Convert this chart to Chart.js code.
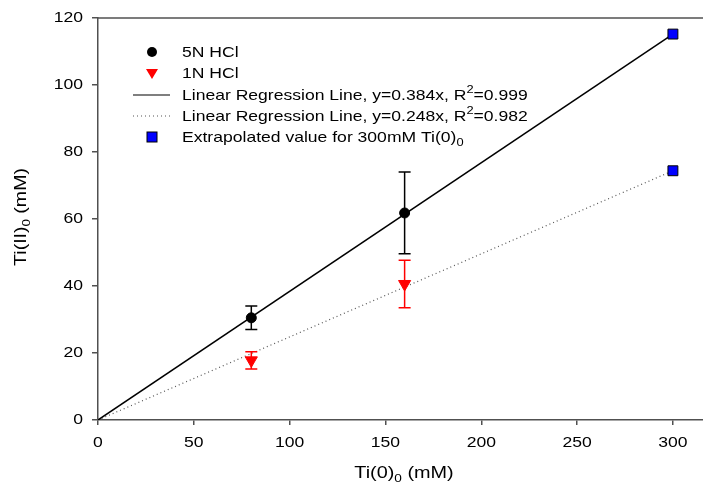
<!DOCTYPE html>
<html>
<head>
<meta charset="utf-8">
<script src="https://cdn.jsdelivr.net/npm/chart.js@4/dist/chart.umd.min.js"></script>
<style>
  html, body { margin: 0; padding: 0; background: #fff; overflow: hidden; }
  #wrap { width: 703px; height: 489px; position: relative; }
  canvas { display: block; }
</style>
</head>
<body>
<div id="wrap"><canvas id="myChart"></canvas></div>
<script>
// concentraciones Ti(0) (mM)
const xConc = [80, 160];
// Ti(II) medido con 5N HCl y su error
const y5N = [30.5, 61.8];
const err5N = [3.5, 12.2];
// Ti(II) medido con 1N HCl y su error
const y1N = [17.8, 40.6];
const err1N = [2.6, 7.1];
// rectas de regresion (pendientes) y valor extrapolado a 300 mM
const slope5N = 0.384;
const slope1N = 0.248;
const xLinea = [0, 300];
const xExtra = 300;
const yExtra = [115.2, 74.4];
// ticks
const xTicks = [0, 50, 100, 150, 200, 250, 300];
const yTicks = [0, 20, 40, 60, 80, 100, 120];

const fuente = "'Liberation Sans', Arial, sans-serif";
const ejeColor = '#505050';
const estirar = 1.17; // el original esta algo ensanchado

function pts(xs, ys) {
    return xs.map((x, i) => ({ x: x, y: ys[i] }));
}

// barras de error
const errorBars = {
    id: 'errorBars',
    afterDatasetsDraw(chart) {
        const ctx = chart.ctx;
        const xs = chart.scales.x, ys = chart.scales.y;
        const series = [[y5N, err5N, '#000'], [y1N, err1N, '#ff0000']];
        ctx.save();
        ctx.lineWidth = 1.5;
        series.forEach(s => {
            ctx.strokeStyle = s[2];
            xConc.forEach((xv, i) => {
                const px = xs.getPixelForValue(xv);
                const top = ys.getPixelForValue(s[0][i] + s[1][i]);
                const bot = ys.getPixelForValue(s[0][i] - s[1][i]);
                ctx.beginPath();
                ctx.moveTo(px, top); ctx.lineTo(px, bot);
                ctx.moveTo(px - 6, top); ctx.lineTo(px + 6, top);
                ctx.moveTo(px - 6, bot); ctx.lineTo(px + 6, bot);
                ctx.stroke();
            });
        });
        ctx.restore();
    }
};

// texto con sub/superindice: partes [texto, modo]
function partsWidth(ctx, parts, size) {
    let w = 0;
    parts.forEach(p => {
        ctx.font = (p[1] !== 'n' ? Math.round(size * 0.7) : size) + 'px ' + fuente;
        w += ctx.measureText(p[0]).width;
    });
    return w;
}
function drawParts(ctx, parts, x, y, size, sx) {
    ctx.save();
    ctx.translate(x, y);
    ctx.scale(sx, 1);
    let cx = 0;
    parts.forEach(p => {
        const small = p[1] !== 'n';
        ctx.font = (small ? Math.round(size * 0.7) : size) + 'px ' + fuente;
        let dy = 0;
        if (p[1] === 'sub') dy = size * 0.32;
        if (p[1] === 'sup') dy = -size * 0.4;
        ctx.fillText(p[0], cx, dy);
        cx += ctx.measureText(p[0]).width;
    });
    ctx.restore();
}

const extras = {
    id: 'extras',
    afterDraw(chart) {
        const ctx = chart.ctx;
        const a = chart.chartArea;
        const xs = chart.scales.x, ys = chart.scales.y;
        ctx.save();
        // linea superior del marco
        ctx.strokeStyle = ejeColor;
        ctx.lineWidth = 1.5;
        ctx.beginPath();
        ctx.moveTo(a.left, a.top);
        ctx.lineTo(a.right, a.top);
        ctx.stroke();

        ctx.fillStyle = '#000';
        ctx.textBaseline = 'middle';
        ctx.textAlign = 'left';

        // etiquetas de los ejes
        yTicks.forEach(v => {
            const t = String(v);
            ctx.font = '15px ' + fuente;
            const w = ctx.measureText(t).width * estirar;
            drawParts(ctx, [[t, 'n']], 83 - w, ys.getPixelForValue(v), 15, estirar);
        });
        xTicks.forEach(v => {
            const t = String(v);
            ctx.font = '15px ' + fuente;
            const w = ctx.measureText(t).width * estirar;
            drawParts(ctx, [[t, 'n']], xs.getPixelForValue(v) - w / 2, 443, 15, estirar);
        });

        // titulo eje x
        const tx = [['Ti(0)', 'n'], ['0', 'sub'], [' (mM)', 'n']];
        const wx = partsWidth(ctx, tx, 16) * 1.24;
        drawParts(ctx, tx, 404 - wx / 2, 474, 16, 1.24);

        // titulo eje y
        const ty = [['Ti(II)', 'n'], ['0', 'sub'], [' (mM)', 'n']];
        const wy = partsWidth(ctx, ty, 16) * 1.22;
        ctx.save();
        ctx.translate(22, 217);
        ctx.rotate(-Math.PI / 2);
        drawParts(ctx, ty, -wy / 2, 0, 16, 1.22);
        ctx.restore();

        // leyenda
        const lx = 152, tx0 = 182;
        const filas = [52, 73, 95, 116, 137];
        ctx.fillStyle = '#000';
        ctx.beginPath();
        ctx.arc(lx, filas[0], 5, 0, Math.PI * 2);
        ctx.fill();
        ctx.fillStyle = '#ff0000';
        ctx.beginPath();
        ctx.moveTo(lx - 6, filas[1] - 4);
        ctx.lineTo(lx + 6, filas[1] - 4);
        ctx.lineTo(lx, filas[1] + 6);
        ctx.closePath();
        ctx.fill();
        ctx.strokeStyle = '#000';
        ctx.lineWidth = 1.2;
        ctx.beginPath();
        ctx.moveTo(133, filas[2]); ctx.lineTo(170, filas[2]);
        ctx.stroke();
        ctx.strokeStyle = '#555';
        ctx.setLineDash([1, 3]);
        ctx.beginPath();
        ctx.moveTo(133, filas[3]); ctx.lineTo(170, filas[3]);
        ctx.stroke();
        ctx.setLineDash([]);
        ctx.fillStyle = '#0000ff';
        ctx.fillRect(lx - 5, filas[4] - 5, 10, 10);
        ctx.strokeStyle = '#000';
        ctx.lineWidth = 1;
        ctx.strokeRect(lx - 5, filas[4] - 5, 10, 10);

        ctx.fillStyle = '#000';
        drawParts(ctx, [['5N HCl', 'n']], tx0, filas[0] + 1, 15, estirar);
        drawParts(ctx, [['1N HCl', 'n']], tx0, filas[1] + 1, 15, estirar);
        drawParts(ctx, [['Linear Regression Line, y=' + slope5N + 'x, R', 'n'], ['2', 'sup'], ['=0.999', 'n']], tx0, filas[2] + 1, 15, estirar);
        drawParts(ctx, [['Linear Regression Line, y=' + slope1N + 'x, R', 'n'], ['2', 'sup'], ['=0.982', 'n']], tx0, filas[3] + 1, 15, estirar);
        drawParts(ctx, [['Extrapolated value for 300mM Ti(0)', 'n'], ['0', 'sub']], tx0, filas[4] + 1, 15, estirar);
        ctx.restore();
    }
};

const data = {
    datasets: [
        {
            type: 'line',
            data: pts(xLinea, xLinea.map(x => x * slope5N)),
            borderColor: '#000',
            borderWidth: 1.5,
            pointRadius: 0,
            order: 5
        },
        {
            type: 'line',
            data: pts(xLinea, xLinea.map(x => x * slope1N)),
            borderColor: '#555',
            borderWidth: 1.2,
            borderDash: [1, 3],
            pointRadius: 0,
            order: 5
        },
        {
            data: pts(xConc, y5N),
            backgroundColor: '#000',
            borderColor: '#000',
            pointStyle: 'circle',
            pointRadius: 5,
            order: 1
        },
        {
            data: pts(xConc, y1N),
            backgroundColor: '#ff0000',
            borderColor: '#ff0000',
            pointStyle: 'triangle',
            rotation: 180,
            pointRadius: 7,
            order: 1
        },
        {
            data: pts([xExtra, xExtra], yExtra),
            backgroundColor: '#0000ff',
            borderColor: '#000',
            borderWidth: 1,
            pointStyle: 'rect',
            pointRadius: 7,
            order: 1
        }
    ]
};

const config = {
    type: 'scatter',
    data: data,
    plugins: [errorBars, extras],
    options: {
        responsive: true,
        maintainAspectRatio: false,
        animation: false,
        layout: { autoPadding: false, padding: { top: 18, right: 0, left: 0, bottom: 0 } },
        plugins: {
            legend: { display: false },
            tooltip: { enabled: false }
        },
        scales: {
            x: {
                type: 'linear',
                min: 0,
                max: 315.7,
                afterBuildTicks: (s) => { s.ticks = xTicks.map(v => ({ value: v })); },
                afterFit: (s) => { s.height = 69; s.paddingLeft = 0; s.paddingRight = 0; s.paddingTop = 0; s.paddingBottom = 0; },
                ticks: { color: 'rgba(0,0,0,0)', font: { family: fuente, size: 14 }, padding: 7, maxRotation: 0 },
                grid: { drawOnChartArea: false, drawTicks: true, tickLength: 5, color: ejeColor, lineWidth: 1.5 },
                border: { color: ejeColor, width: 1.5 }
            },
            y: {
                min: 0,
                max: 120,
                afterBuildTicks: (s) => { s.ticks = yTicks.map(v => ({ value: v })); },
                afterFit: (s) => { s.width = 98; s.paddingLeft = 0; s.paddingRight = 0; s.paddingTop = 0; s.paddingBottom = 0; },
                ticks: { color: 'rgba(0,0,0,0)', font: { family: fuente, size: 14 }, padding: 9 },
                grid: { drawOnChartArea: false, drawTicks: true, tickLength: 6, color: ejeColor, lineWidth: 1.5 },
                border: { color: ejeColor, width: 1.5 }
            }
        }
    }
};

new Chart(document.getElementById('myChart'), config);
</script>
</body>
</html>
